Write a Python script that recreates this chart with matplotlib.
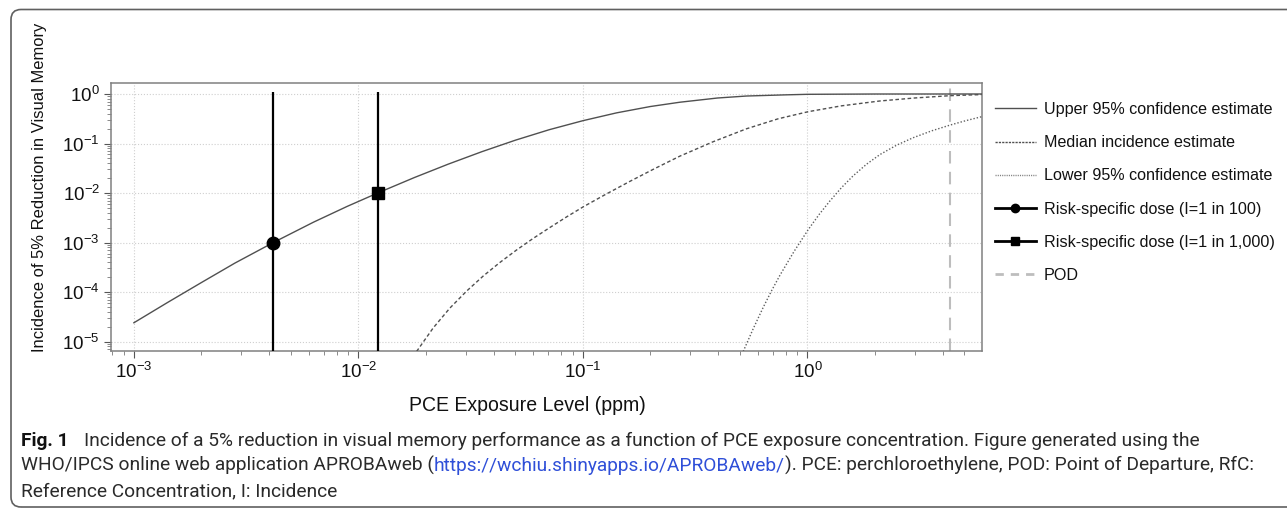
import matplotlib
matplotlib.use("Agg")
import matplotlib.pyplot as plt
from matplotlib.lines import Line2D
from matplotlib.patches import FancyBboxPatch
from matplotlib.transforms import IdentityTransform
from matplotlib.ticker import LogLocator, NullFormatter
from matplotlib import font_manager

# ---------------- data ----------------
upper_x = [0.001, 0.001413, 0.001995, 0.002818, 0.004178, 0.00631, 0.00891, 0.01218,
           0.01778, 0.02512, 0.03548, 0.05012, 0.07079, 0.1, 0.1413, 0.1995, 0.2704,
           0.3981, 0.5358, 0.7943, 1.0, 2.0, 6.0]
upper_y = [2.4e-5, 6.17e-5, 1.55e-4, 3.85e-4, 1.0e-3, 2.58e-3, 5.37e-3, 1.0e-2,
           0.0206, 0.0383, 0.0684, 0.117, 0.190, 0.289, 0.416, 0.558, 0.682,
           0.83, 0.91, 0.96, 0.985, 0.999, 1.0]

median_x = [0.01816, 0.02153, 0.02553, 0.03034, 0.03597, 0.04266, 0.05058, 0.05998,
            0.07129, 0.08453, 0.1002, 0.1259, 0.1618, 0.2089, 0.2704, 0.3802, 0.5358,
            0.7413, 1.009, 1.413, 2.104, 3.020, 4.325, 5.970]
median_y = [6.31e-6, 1.884e-5, 4.73e-5, 1.047e-4, 2.109e-4, 3.954e-4, 7.047e-4, 1.209e-3,
            2.014e-3, 3.289e-3, 5.248e-3, 9.33e-3, 0.01718, 0.03119, 0.05559, 0.1086,
            0.1986, 0.316, 0.4395, 0.575, 0.7228, 0.832, 0.9247, 0.973]

lower_x = [0.5176, 0.5735, 0.6353, 0.6927, 0.7551, 0.8730, 1.009, 1.127, 1.259, 1.419,
           1.600, 1.834, 2.104, 2.495, 2.958, 3.577, 4.325, 5.082, 5.970]
lower_y = [6.31e-6, 1.816e-5, 4.898e-5, 1.069e-4, 2.203e-4, 6.668e-4, 1.832e-3, 3.673e-3,
           6.902e-3, 0.01288, 0.02234, 0.03819, 0.05984, 0.09247, 0.1309, 0.1803, 0.2360,
           0.2897, 0.3475]

rsd_x = [0.00418, 0.01218]          # risk-specific doses
rsd_y = [1.0e-3, 1.0e-2]            # incidence at the marker
rsd_top = [1.1, 1.1]                # top of the vertical lines
rsd_markers = ["o", "s"]
pod_x = 4.33

legend_labels = ["Upper 95% confidence estimate", "Median incidence estimate",
                 "Lower 95% confidence estimate", "Risk-specific dose (I=1 in 100)",
                 "Risk-specific dose (I=1 in 1,000)", "POD"]
x_label = "PCE Exposure Level (ppm)"
y_label = "Incidence of 5% Reduction in Visual Memory"
x_ticks = [1e-3, 1e-2, 1e-1, 1e0]
y_ticks = [1e-5, 1e-4, 1e-3, 1e-2, 1e-1, 1e0]

caption_bold = "Fig. 1"
caption_l1 = ("Incidence of a 5% reduction in visual memory performance as a function of PCE "
              "exposure concentration. Figure generated using the")
caption_l2a = "WHO/IPCS online web application APROBAweb ("
caption_url = "https://wchiu.shinyapps.io/APROBAweb/"
caption_l2b = "). PCE: perchloroethylene, POD: Point of Departure, RfC:"
caption_l3 = "Reference Concentration, I: Incidence"

# ---------------- figure ----------------
W, H = 1287, 511
plt.rcParams["font.family"] = ["Liberation Sans", "DejaVu Sans"]
plt.rcParams["mathtext.fontset"] = "custom"
plt.rcParams["mathtext.rm"] = "Liberation Sans"
plt.rcParams["mathtext.it"] = "Liberation Sans:italic"
plt.rcParams["mathtext.bf"] = "Liberation Sans:bold"

fig = plt.figure(figsize=(W / 100, H / 100), dpi=100)
fig.patch.set_facecolor("white")

ax_l, ax_r, ax_t, ax_b = 111, 982, 82.7, 351
ax = fig.add_axes([ax_l / W, 1 - ax_b / H, (ax_r - ax_l) / W, (ax_b - ax_t) / H])
ax.set_xscale("log")
ax.set_yscale("log")
ax.set_xlim(10 ** -3.102, 10 ** 0.7777)
ax.set_ylim(10 ** -5.19, 10 ** 0.228)

curve_col = "#505050"
ax.plot(upper_x, upper_y, color=curve_col, lw=1.0, ls="-", zorder=3)
ax.plot(median_x, median_y, color=curve_col, lw=1.0, ls=(0, (2.6, 1.8)), zorder=3)
ax.plot(lower_x, lower_y, color="#606060", lw=1.0, ls=(0, (1, 1.4)), zorder=3)

ax.vlines(rsd_x, 1e-7, rsd_top, colors="black", lw=1.6, zorder=4)
for xv, yv, mk in zip(rsd_x, rsd_y, rsd_markers):
    ax.plot([xv], [yv], marker=mk, color="black", ms=9.0 if mk == "o" else 8.6,
            ls="none", zorder=5)
ax.axvline(pod_x, color="#bdbdbd", lw=1.5, ls=(0, (6, 4)), zorder=2)

ax.set_xticks(x_ticks)
ax.set_yticks(y_ticks)
ax.xaxis.set_minor_locator(LogLocator(base=10, subs=range(2, 10), numticks=50))
ax.yaxis.set_minor_locator(LogLocator(base=10, subs=range(2, 10), numticks=50))
ax.xaxis.set_minor_formatter(NullFormatter())
ax.yaxis.set_minor_formatter(NullFormatter())
ax.grid(True, which="major", ls=":", color="#cfcfcf", lw=0.8)
ax.set_axisbelow(True)
ax.tick_params(which="major", direction="out", length=5, width=0.8, color="#555555",
               labelsize=13.5, pad=3, labelcolor="#111111")
ax.tick_params(which="minor", direction="out", length=3, width=0.6, color="#777777")
for s in ax.spines.values():
    s.set_color("#808080")
    s.set_linewidth(1.1)

# axis labels placed where the reference puts them
xl = fig.text(527 / W, 1 - 405 / H, x_label, ha="center", va="center", fontsize=13,
              color="#111111")
yl = fig.text(40 / W, 1 - 187 / H, y_label, ha="center", va="center", rotation=90,
              fontsize=13, color="#111111")

# legend
handles = [
    Line2D([], [], color=curve_col, lw=1.0, ls="-"),
    Line2D([], [], color=curve_col, lw=1.0, ls=(0, (1.6, 0.8))),
    Line2D([], [], color="#808080", lw=1.0, ls=(0, (0.8, 0.8))),
    Line2D([], [], color="black", lw=2.0, marker="o", ms=6),
    Line2D([], [], color="black", lw=2.0, marker="s", ms=6),
    Line2D([], [], color="#bdbdbd", lw=2.0, ls=(0, (3, 2.5))),
]
leg_fs_pt = 11.6
leg_fs_px = leg_fs_pt * 100 / 72
leg = fig.legend(handles, legend_labels, loc="upper left",
                 bbox_to_anchor=(995 / W, 1 - (111.4 - 0.58 * leg_fs_px) / H),
                 frameon=False, fontsize=leg_fs_pt, handlelength=41 / leg_fs_px,
                 handletextpad=8 / leg_fs_px, labelspacing=1.13, borderpad=0,
                 borderaxespad=0)
for t in leg.get_texts():
    t.set_color("#111111")

# ---------------- caption ----------------
fig.canvas.draw()
r = fig.canvas.get_renderer()

# fit axis-label sizes to the reference widths
bb = xl.get_window_extent(r)
xl.set_fontsize(xl.get_fontsize() * 236 / bb.width)
bb = yl.get_window_extent(r)
yl.set_fontsize(yl.get_fontsize() * 326 / bb.height)

names = {f.name for f in font_manager.fontManager.ttflist}
cap_font = [f for f in ["Roboto", "Open Sans", "Noto Sans"] if f in names] + ["DejaVu Sans"]
cap_col = "#2a2a2a"
url_col = "#2f4fd8"
fs0 = 12.0


def put(x_px, base_px, s, fs, **kw):
    t = fig.text(x_px / W, 1 - base_px / H, s, fontsize=fs, family=cap_font,
                 va="baseline", ha="left", **kw)
    return t


# measure line 1 width at fs0 and scale to the reference width
tb = put(21, 446, caption_bold, fs0, weight="bold", color="#111111")
t1 = put(0, 446, caption_l1, fs0, color=cap_col)
fig.canvas.draw()
wb = tb.get_window_extent(r).width
w1 = t1.get_window_extent(r).width
gap = 15
scale = (1179 - gap) / (wb + w1)
fs = fs0 * scale
tb.set_fontsize(fs)
t1.set_fontsize(fs)
fig.canvas.draw()
wb = tb.get_window_extent(r).width
t1.set_x((21 + wb + gap) / W)

# line 2 pieces
ta = put(21, 471, caption_l2a, fs, color=cap_col)
fig.canvas.draw()
xa = ta.get_window_extent(r).x1
tu = put(xa, 471, caption_url, fs, color=url_col)
fig.canvas.draw()
xu = tu.get_window_extent(r).x1
put(xu, 471, caption_l2b, fs, color=cap_col)

put(21, 496, caption_l3, fs, color=cap_col)

# rounded frame around figure + caption
frame = FancyBboxPatch((11, H - 507), 1400, 497.5,
                       boxstyle="round,pad=0,rounding_size=10",
                       transform=IdentityTransform(), fill=False,
                       ec="#606060", lw=1.2)
fig.add_artist(frame)

fig.savefig("out.png", dpi=100)
